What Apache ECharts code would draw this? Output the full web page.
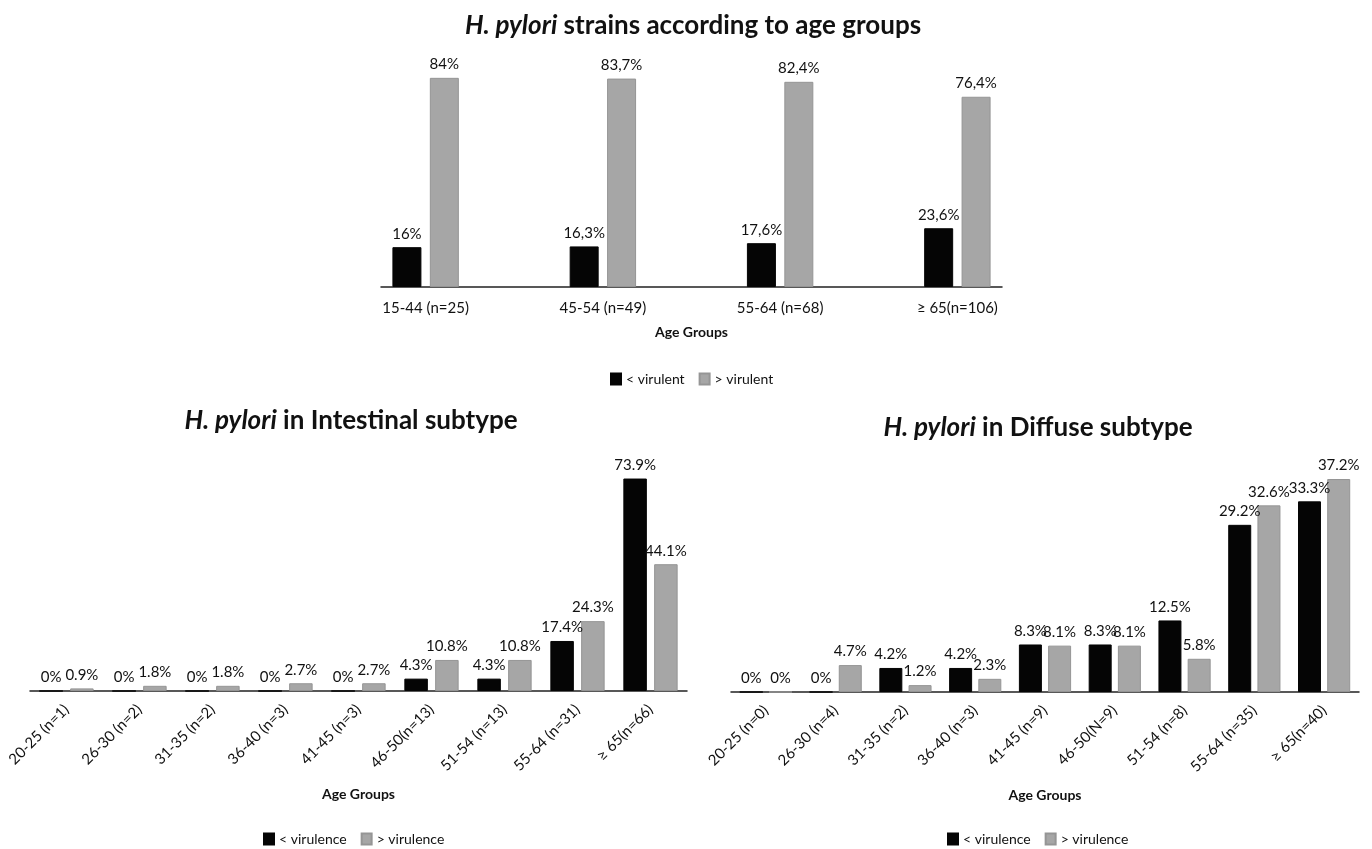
<!DOCTYPE html>
<html lang="en">
<head>
    <meta charset="UTF-8">
    <title>H. pylori strains</title>
    <script src="https://cdn.jsdelivr.net/npm/echarts@6/dist/echarts.min.js"></script>
    <style>
        html, body { margin: 0; padding: 0; background: #fff; }
        #main { width: 1372px; height: 849px; }
    </style>
</head>
<body>
<div id="main"></div>
<script>
    // top chart: strains by age group
    var topCategories = ['15-44 (n=25)', '45-54 (n=49)', '55-64 (n=68)', '\u2265 65(n=106)'];
    var topLess = [16, 16.3, 17.6, 23.6];
    var topMore = [84, 83.7, 82.4, 76.4];

    // bottom left: intestinal subtype
    var intCategories = ['20-25 (n=1)', '26-30 (n=2)', '31-35 (n=2)', '36-40 (n=3)', '41-45 (n=3)',
        '46-50(n=13)', '51-54 (n=13)', '55-64 (n=31)', '\u2265 65(n=66)'];
    var intLess = [0, 0, 0, 0, 0, 4.3, 4.3, 17.4, 73.9];
    var intMore = [0.9, 1.8, 1.8, 2.7, 2.7, 10.8, 10.8, 24.3, 44.1];

    // bottom right: diffuse subtype
    var difCategories = ['20-25 (n=0)', '26-30 (n=4)', '31-35 (n=2)', '36-40 (n=3)', '41-45 (n=9)',
        '46-50(N=9)', '51-54 (n=8)', '55-64 (n=35)', '\u2265 65(n=40)'];
    var difLess = [0, 0, 4.2, 4.2, 8.3, 8.3, 12.5, 29.2, 33.3];
    var difMore = [0, 4.7, 1.2, 2.3, 8.1, 8.1, 5.8, 32.6, 37.2];

    var FONT = 'Lato';
    var BLACK = '#050505';
    var GRAY = '#a6a6a6';
    var TEXT = '#111';

    var myChart = echarts.init(document.getElementById('main'));

    function titleOf(rest, x, y) {
        return {
            text: '{i|H. pylori}' + rest,
            left: x, top: y, textAlign: 'center', padding: 0,
            textStyle: {
                fontFamily: FONT, fontSize: 26, fontWeight: 'bold', color: TEXT,
                rich: { i: { fontFamily: FONT, fontSize: 26, fontWeight: 'bold', fontStyle: 'italic', color: TEXT } }
            }
        };
    }

    function catAxis(grid, data, rotate, margin, nameGap, showLine) {
        return {
            gridIndex: grid, type: 'category', data: data,
            axisLine: { show: showLine, lineStyle: { color: '#222', width: 1.5 } },
            axisTick: { show: false },
            axisLabel: { interval: 0, rotate: rotate, margin: margin, fontFamily: FONT, fontSize: 15, color: TEXT },
            name: 'Age Groups', nameLocation: 'middle', nameGap: nameGap,
            nameTextStyle: { fontFamily: FONT, fontSize: 14, fontWeight: 'bold', color: TEXT }
        };
    }

    function valAxis(grid, max) {
        return { gridIndex: grid, type: 'value', min: 0, max: max, show: false, splitLine: { show: false } };
    }

    function barSeries(name, data, axis, color, width, gap, comma) {
        return {
            name: name, type: 'bar', data: data,
            xAxisIndex: axis, yAxisIndex: axis,
            barWidth: width, barGap: gap,
            itemStyle: { color: color, borderColor: color === GRAY ? '#959595' : color, borderWidth: 1 },
            label: {
                show: true, position: 'top', distance: 6,
                fontFamily: FONT, fontSize: 15, color: TEXT,
                formatter: function (p) {
                    var s = String(p.value);
                    return (comma ? s.replace('.', ',') : s) + '%';
                }
            }
        };
    }

    function legendOf(names, x, y) {
        return {
            data: names, left: x, top: y, itemWidth: 10, itemHeight: 11, itemGap: 14,
            icon: 'rect', padding: 0,
            textStyle: { fontFamily: FONT, fontSize: 14, color: TEXT }
        };
    }

    var option = {
        animation: false,
        title: [
            titleOf(' strains according to age groups', 693, 13),
            titleOf(' in Intestinal subtype', 351, 408),
            titleOf(' in Diffuse subtype', 1038, 415)
        ],
        legend: [
            legendOf(['< virulent', '> virulent'], 610, 372),
            legendOf(['< virulence', '> virulence'], 263, 832),
            legendOf(['< virulence', '> virulence'], 947, 832)
        ],
        grid: [
            { left: 337, top: 38, width: 709, height: 249, outerBoundsMode: 'none' },
            { left: 30, top: 461, width: 657, height: 230, outerBoundsMode: 'none' },
            { left: 731, top: 463, width: 628, height: 229, outerBoundsMode: 'none' },
            // the visible baseline of the top chart is shorter than its category band
            { left: 381, top: 38, width: 621, height: 249, outerBoundsMode: 'none' }
        ],
        xAxis: [
            catAxis(0, topCategories, 0, 14, 38, false),
            catAxis(1, intCategories, 45, 16, 96, true),
            catAxis(2, difCategories, 45, 16, 96, true),
            {
                gridIndex: 3, type: 'value', min: 0, max: 1,
                axisLine: { show: true, onZero: false, lineStyle: { color: '#222', width: 1.5 } },
                axisTick: { show: false }, axisLabel: { show: false }, splitLine: { show: false }
            }
        ],
        yAxis: [
            valAxis(0, 100),
            valAxis(1, 80),
            valAxis(2, 40),
            valAxis(3, 1)
        ],
        series: [
            barSeries('< virulent', topLess, 0, BLACK, 29, '29%', true),
            barSeries('> virulent', topMore, 0, GRAY, 29, '29%', true),
            barSeries('< virulence', intLess, 1, BLACK, 23.5, '31%', false),
            barSeries('> virulence', intMore, 1, GRAY, 23.5, '31%', false),
            barSeries('< virulence', difLess, 2, BLACK, 23, '27%', false),
            barSeries('> virulence', difMore, 2, GRAY, 23, '27%', false)
        ]
    };

    myChart.setOption(option);
</script>
</body>
</html>
